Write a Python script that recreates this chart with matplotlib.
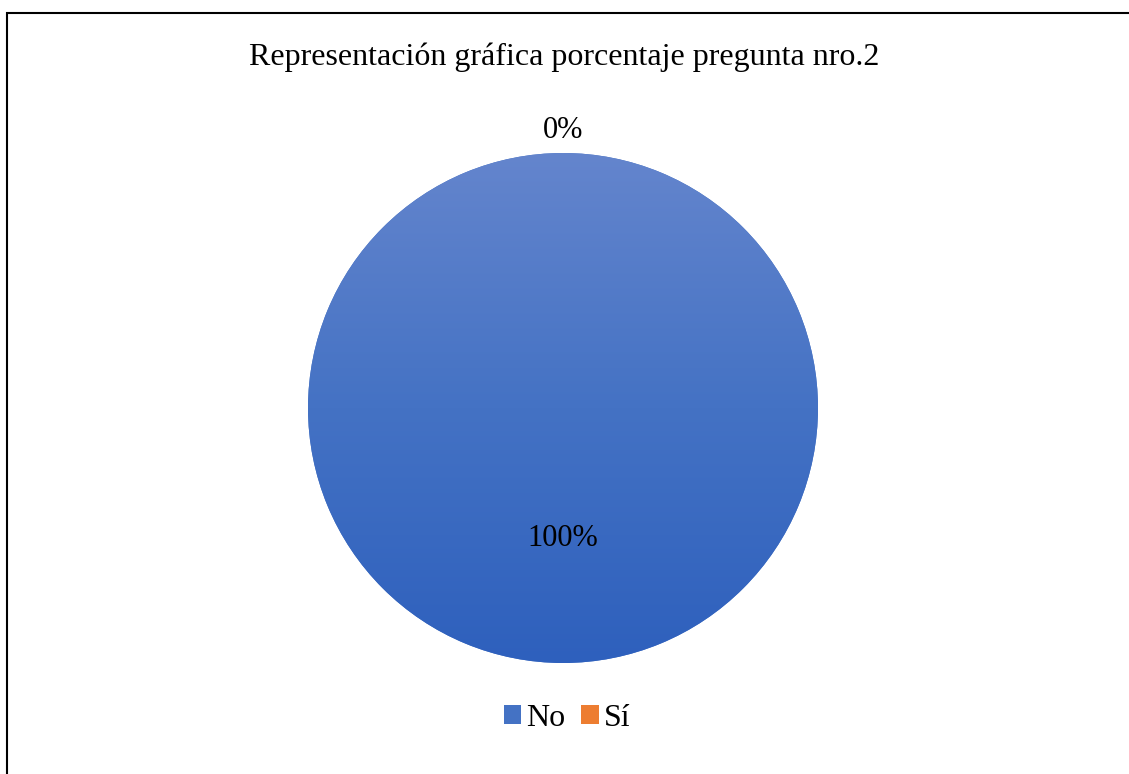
import numpy as np
import matplotlib
matplotlib.use("Agg")
import matplotlib.pyplot as plt
from matplotlib.colors import LinearSegmentedColormap
from matplotlib.patches import Rectangle

title = "Representación gráfica porcentaje pregunta nro.2"
categories = ["No", "Sí"]
values = [100, 0]
colors = ["#4472C4", "#ED7D31"]

plt.rcParams['font.family'] = ['Liberation Serif', 'DejaVu Serif']

W, H = 1129, 774
fig = plt.figure(figsize=(W / 100, H / 100), dpi=100)

# chart frame (only left/top visible in the original crop)
fig.patches.append(Rectangle((7 / W, -0.1), 1.2, (H - 13) / H + 0.1, transform=fig.transFigure,
                             fill=False, edgecolor="black", linewidth=1.5))

cx, cy, r = 563, 408, 255
ax = fig.add_axes([(cx - r) / W, (H - cy - r) / H, 2 * r / W, 2 * r / H])
wedges, _ = ax.pie(values, colors=colors, startangle=90, counterclock=False, radius=1)
ax.set_xlim(-1, 1)
ax.set_ylim(-1, 1)
ax.set_aspect("auto")
ax.axis("off")

# gradient fill for the main wedge
grad = LinearSegmentedColormap.from_list("g", ["#2E60BD", "#4472C4", "#6485CD"])
gy = np.linspace(0, 1, 256).reshape(-1, 1)
for w in wedges:
    if w.theta2 - w.theta1 > 0:
        im = ax.imshow(gy, cmap=grad, extent=[-1, 1, -1, 1], origin="lower",
                       aspect="auto", zorder=w.get_zorder() + 0.1)
        im.set_clip_path(w)

# percentage labels
total = sum(values)
for w, v in zip(wedges, values):
    mid = np.deg2rad((w.theta1 + w.theta2) / 2)
    d = 0.51 if v > 0 else 1.09
    ax.text(d * np.cos(mid), d * np.sin(mid), f"{v / total:.0%}", ha="center", va="center",
            fontsize=22, zorder=5)

fig.text(0.5, 1 - 57 / H, title, ha="center", va="center", fontsize=23)

handles = [Rectangle((0, 0), 1, 1, facecolor=c) for c in colors]
fig.legend(handles, categories, loc="center", bbox_to_anchor=(567 / W, 1 - 718 / H), ncol=2,
           frameon=False, fontsize=23, handlelength=0.55, handleheight=0.55,
           handletextpad=0.15, columnspacing=0.5)

fig.savefig("out.png", dpi=100)
